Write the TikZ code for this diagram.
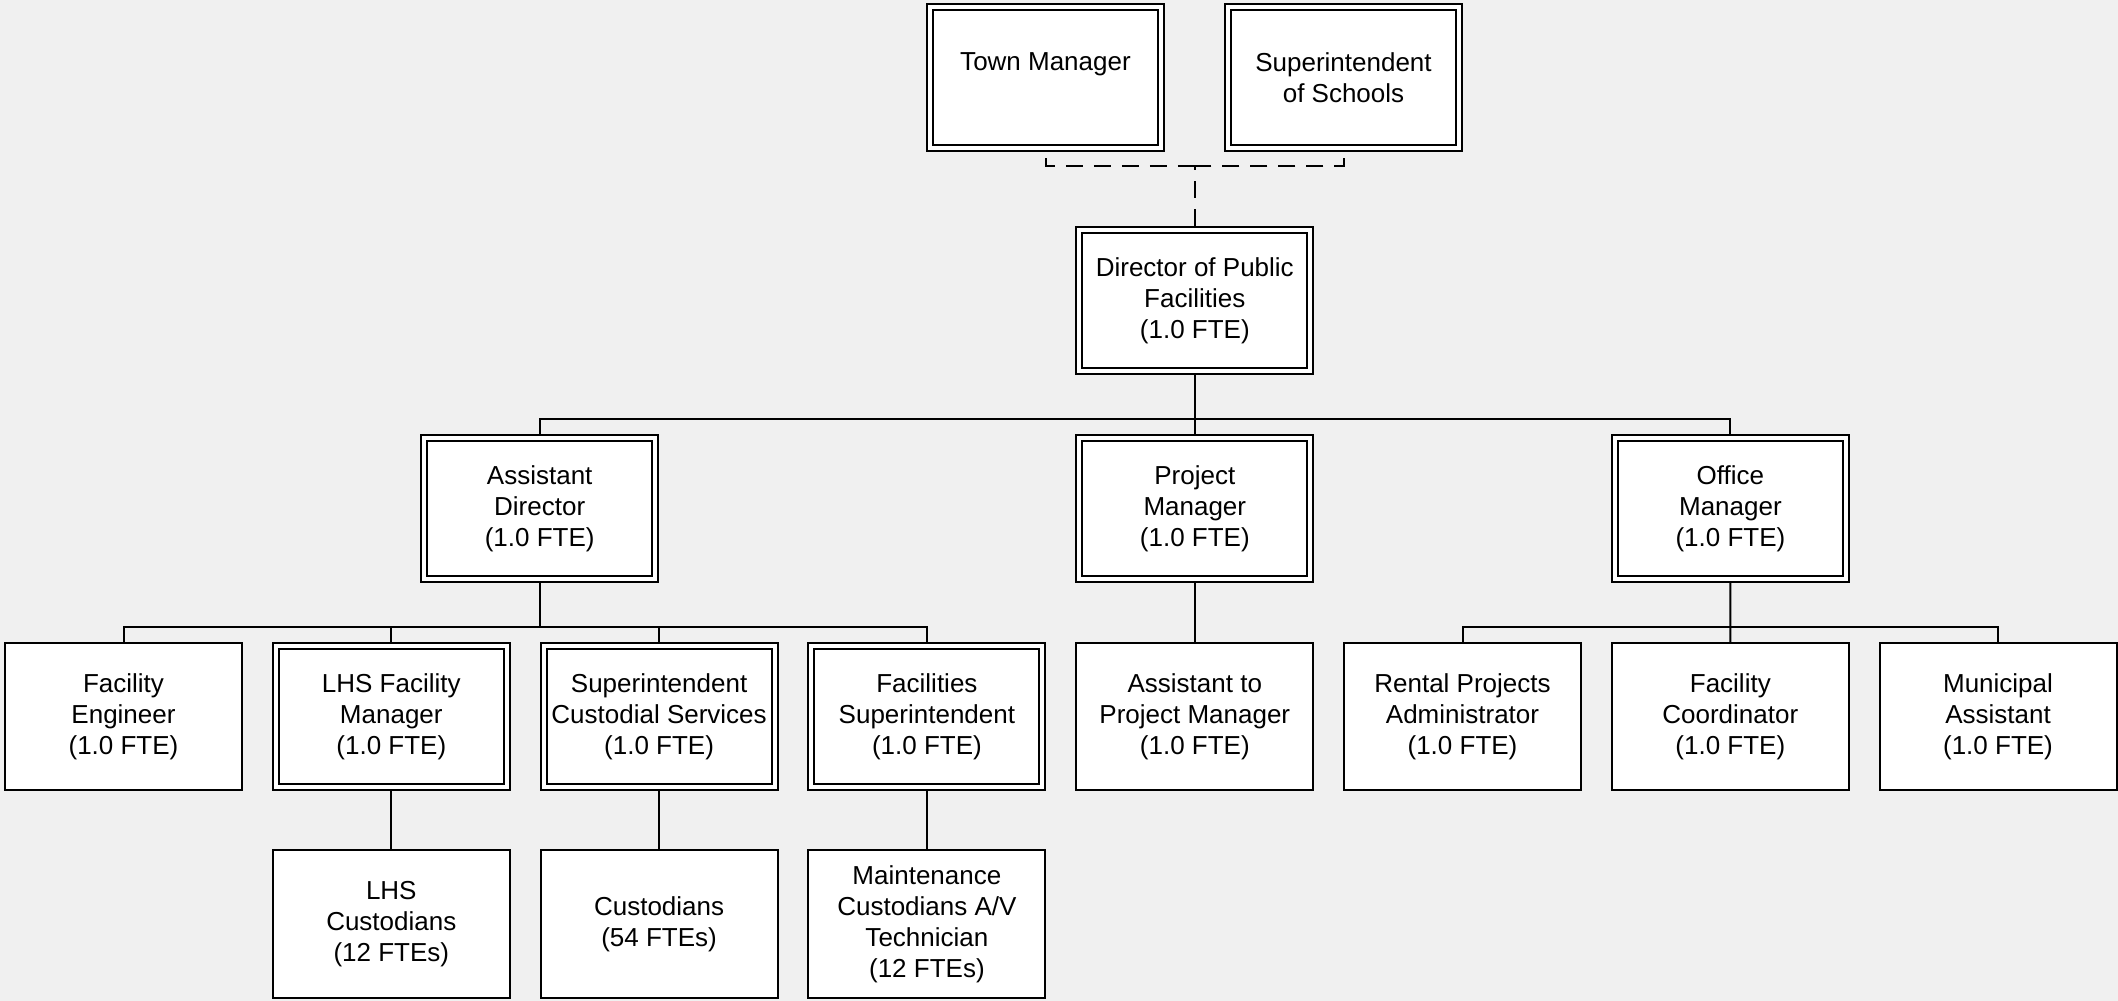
\documentclass[tikz,border=0pt]{standalone}
\usepackage{fontspec}
\setmainfont{Liberation Sans}
\begin{document}
\begin{tikzpicture}[x=1pt,y=-1pt,
  boxtext/.style={align=center, inner sep=0pt,
    font=\fontsize{26}{31}\selectfont},
  singlebox/.style={boxtext, draw, line width=2pt, fill=white,
    minimum width=237pt, minimum height=147.5pt},
  doublebox/.style={boxtext, draw, line width=2pt, double=white,
    double distance=4pt, fill=white, outer sep=4pt,
    minimum width=231pt, minimum height=141.5pt},
  conn/.style={line width=2pt},
  dashline/.style={line width=2pt, dash pattern=on 17pt off 11pt}]

% canvas
\fill[fill={rgb,255:red,240;green,240;blue,240}] (0,0) rectangle (2118,1001);
\useasboundingbox (0,0) rectangle (2118,1001);

% top level
\node[doublebox] (tm)  at (1045.5,77.5) {Town Manager\\\phantom{of Schools}};
\node[doublebox] (sos) at (1343.5,77.5) {Superintendent\\of Schools};
\node[doublebox] (dir) at (1194.8,300.3) {Director of Public\\Facilities\\(1.0 FTE)};

% second level
\node[doublebox] (ad) at (539.7,508.3)  {Assistant\\Director\\(1.0 FTE)};
\node[doublebox] (pm) at (1194.8,508.3) {Project\\Manager\\(1.0 FTE)};
\node[doublebox] (om) at (1730.4,508.3) {Office\\Manager\\(1.0 FTE)};

% third level
\node[singlebox] (fe)    at (123.5,716.5)  {Facility\\Engineer\\(1.0 FTE)};
\node[doublebox] (lhsfm) at (391.3,716.5)  {LHS Facility\\Manager\\(1.0 FTE)};
\node[doublebox] (scs)   at (659.1,716.5)  {Superintendent\\Custodial Services\\(1.0 FTE)};
\node[doublebox] (fs)    at (926.9,716.5)  {Facilities\\Superintendent\\(1.0 FTE)};
\node[singlebox] (apm)   at (1194.8,716.5) {Assistant to\\Project Manager\\(1.0 FTE)};
\node[singlebox] (rpa)   at (1462.5,716.5) {Rental Projects\\Administrator\\(1.0 FTE)};
\node[singlebox] (fc)    at (1730.3,716.5) {Facility\\Coordinator\\(1.0 FTE)};
\node[singlebox] (ma)    at (1998.0,716.5) {Municipal\\Assistant\\(1.0 FTE)};

% fourth level
\node[singlebox] (lhsc) at (391.3,924.2) {LHS\\Custodians\\(12 FTEs)};
\node[singlebox] (cu)   at (659.1,924.2) {Custodians\\(54 FTEs)};
\node[singlebox] (mt)   at (926.9,924.2) {Maintenance\\Custodians A/V\\Technician\\(12 FTEs)};

% bus levels
\coordinate (topbus) at (1194.8,166);
\coordinate (bus1) at (0,419.3);
\coordinate (bus2) at (0,627.3);

% dotted-line reporting, drawn from each side towards the middle
\draw[dashline, dash phase=22pt] (tm.south) -- (tm.south |- topbus) -- (topbus);
\draw[dashline, dash phase=22pt] (sos.south) -- (sos.south |- topbus) -- (topbus);
\draw[dashline] (dir.north) -- (topbus);

% director to second level
\draw[conn] (dir.south) -- (pm.north);
\draw[conn] (ad.north) |- (om.north |- bus1) -- (om.north);

% assistant director's reports
\draw[conn] (ad.south) -- (ad.south |- bus2);
\draw[conn] (fe.north) |- (fs.north |- bus2) -- (fs.north);
\draw[conn] (lhsfm.north) -- (lhsfm.north |- bus2);
\draw[conn] (scs.north) -- (scs.north |- bus2);

% project manager's report
\draw[conn] (pm.south) -- (apm.north);

% office manager's reports
\draw[conn] (om.south) -- (fc.north);
\draw[conn] (rpa.north) |- (ma.north |- bus2) -- (ma.north);

% fourth level links
\draw[conn] (lhsfm.south) -- (lhsc.north);
\draw[conn] (scs.south) -- (cu.north);
\draw[conn] (fs.south) -- (mt.north);
\end{tikzpicture}
\end{document}
